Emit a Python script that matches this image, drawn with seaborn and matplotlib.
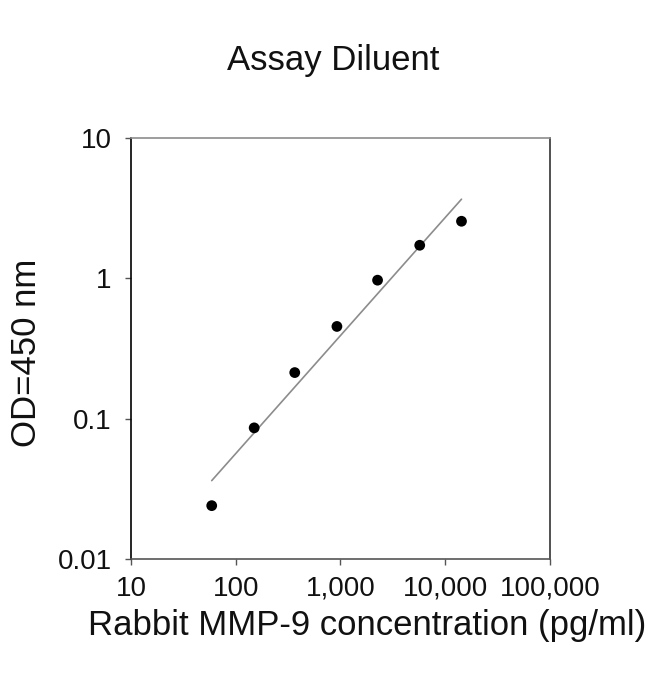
import numpy as np
import pandas as pd
import seaborn as sns
import matplotlib
matplotlib.use("Agg")
import matplotlib.pyplot as plt
from matplotlib.ticker import FuncFormatter, FixedLocator, NullLocator

# standard curve values
conc = [59, 150, 366, 925, 2260, 5710, 14300]
od = [0.024, 0.086, 0.213, 0.454, 0.97, 1.72, 2.55]
x_ticks = [10, 100, 1000, 10000, 100000]
y_ticks = [0.01, 0.1, 1, 10]
y_tick_labels = ["0.01", "0.1", "1", "10"]

df = pd.DataFrame({"conc": conc, "od": od})

# power fit (straight line on log-log)
slope, icpt = np.polyfit(np.log10(df["conc"]), np.log10(df["od"]), 1)
fit_x = np.array([df["conc"].min(), df["conc"].max()])
fit_df = pd.DataFrame({"conc": fit_x, "od": 10 ** (icpt + slope * np.log10(fit_x))})

sns.set_style("white")
plt.rcParams["font.family"] = ["Liberation Sans", "DejaVu Sans"]
plt.rcParams["text.color"] = "#111111"
plt.rcParams["xtick.color"] = "#555555"
plt.rcParams["ytick.color"] = "#555555"
plt.rcParams["xtick.labelcolor"] = "#111111"
plt.rcParams["ytick.labelcolor"] = "#111111"
plt.rcParams["axes.labelcolor"] = "#111111"

fig = plt.figure(figsize=(6.5, 6.74), dpi=100)
ax = fig.add_axes([0.2015, 0.1706, 0.6446, 0.6247])

sns.lineplot(data=fit_df, x="conc", y="od", color="#8c8c8c", linewidth=1.2, ax=ax)
sns.scatterplot(data=df, x="conc", y="od", color="black", s=60, edgecolor="none", ax=ax, zorder=3)

ax.set_xscale("log")
ax.set_yscale("log")
ax.set_xlim(10, 100000)
ax.set_ylim(0.01, 10)

ax.xaxis.set_major_locator(FixedLocator(x_ticks))
ax.xaxis.set_minor_locator(NullLocator())
ax.xaxis.set_major_formatter(FuncFormatter(lambda v, p: f"{int(v):,}"))
ax.yaxis.set_major_locator(FixedLocator(y_ticks))
ax.yaxis.set_minor_locator(NullLocator())
ax.set_yticklabels(y_tick_labels)

ax.tick_params(axis="both", which="major", direction="out", length=4, width=1,
               labelsize=20, left=True, bottom=True)
ax.tick_params(axis="x", pad=8)
ax.tick_params(axis="y", pad=10)

ax.spines["left"].set_color("black")
ax.spines["bottom"].set_color("#555555")
ax.spines["right"].set_color("#333333")
ax.spines["top"].set_color("#8c8c8c")
for s in ax.spines.values():
    s.set_linewidth(1.2)

ax.set_xlabel("Rabbit MMP-9 concentration (pg/ml)", fontsize=25, va="center")
ax.set_ylabel("OD=450 nm", fontsize=25, va="center")
ax.xaxis.set_label_coords(0.564, -0.157)
ax.yaxis.set_label_coords(-0.25, 0.49)

fig.text(0.512, 0.91, "Assay Diluent", fontsize=25, ha="center", va="center")

fig.savefig("out.png", dpi=100)
